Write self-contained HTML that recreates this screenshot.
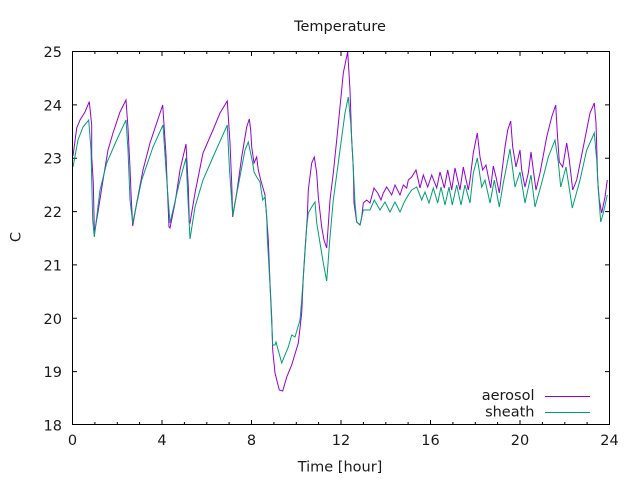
<!DOCTYPE html>
<html><head><meta charset="utf-8"><style>
html,body{margin:0;padding:0;background:#fff;}
svg{display:block;}
text{font-family:"DejaVu Sans","Liberation Sans",sans-serif;font-size:14.5px;fill:#1a1a1a;}
</style></head><body>
<svg width="640" height="480" viewBox="0 0 640 480" xmlns="http://www.w3.org/2000/svg">
<rect width="640" height="480" fill="#fff"/>
<text x="340" y="31" text-anchor="middle">Temperature</text>
<text x="20.5" y="237" text-anchor="middle" transform="rotate(-90 20.5 237)">C</text>
<text x="340" y="471.5" text-anchor="middle">Time [hour]</text>
<g text-anchor="end">
<text x="62" y="57">25</text>
<text x="62" y="110.4">24</text>
<text x="62" y="163.7">23</text>
<text x="62" y="217.1">22</text>
<text x="62" y="270.4">21</text>
<text x="62" y="323.8">20</text>
<text x="62" y="377.1">19</text>
<text x="62" y="430.5">18</text>
</g>
<g text-anchor="middle">
<text x="72.5" y="445">0</text>
<text x="162" y="445">4</text>
<text x="251.5" y="445">8</text>
<text x="341" y="445">12</text>
<text x="430.5" y="445">16</text>
<text x="520" y="445">20</text>
<text x="609.5" y="445">24</text>
</g>
<g stroke="#000" stroke-width="1" fill="none">
<path d="M72.5,104.9h4.5M72.5,158.2h4.5M72.5,211.6h4.5M72.5,264.9h4.5M72.5,318.3h4.5M72.5,371.6h4.5
M609.5,104.9h-4.5M609.5,158.2h-4.5M609.5,211.6h-4.5M609.5,264.9h-4.5M609.5,318.3h-4.5M609.5,371.6h-4.5"/>
<path d="M162,424.5v-4.5M251.5,424.5v-4.5M341,424.5v-4.5M430.5,424.5v-4.5M520,424.5v-4.5
M162,51.5v4.5M251.5,51.5v4.5M341,51.5v4.5M430.5,51.5v4.5M520,51.5v4.5"/>
<path d="M94.9,424.5v-2.5M117.3,424.5v-2.5M139.6,424.5v-2.5M184.4,424.5v-2.5M206.8,424.5v-2.5M229.1,424.5v-2.5M273.9,424.5v-2.5M296.3,424.5v-2.5M318.6,424.5v-2.5M363.4,424.5v-2.5M385.8,424.5v-2.5M408.1,424.5v-2.5M452.9,424.5v-2.5M475.3,424.5v-2.5M497.6,424.5v-2.5M542.4,424.5v-2.5M564.8,424.5v-2.5M587.1,424.5v-2.5
M94.9,51.5v2.5M117.3,51.5v2.5M139.6,51.5v2.5M184.4,51.5v2.5M206.8,51.5v2.5M229.1,51.5v2.5M273.9,51.5v2.5M296.3,51.5v2.5M318.6,51.5v2.5M363.4,51.5v2.5M385.8,51.5v2.5M408.1,51.5v2.5M452.9,51.5v2.5M475.3,51.5v2.5M497.6,51.5v2.5M542.4,51.5v2.5M564.8,51.5v2.5M587.1,51.5v2.5"/>
</g>
<polyline fill="none" stroke="#9400d3" stroke-width="1" points="73,156 76.7,128 80,120 85,112 89.3,101.7 91.7,125 91.7,156.7 93.3,183 94.3,230 94.7,231.7 98,212 103,180 108,150 113,133 120,112 126,100 128,128 130,168 131,193 132.7,226 136.7,203 143,170 150,143 156.7,123 162.7,105 166,155 167,180 169,227 170,228 175,203 180,170 186,144 188.3,187 189.3,222 190,223 195,193 203,153 213,130 220,113 227.3,101 230,143 231.7,183 232.7,217 236.7,193 241.7,157 246.7,127 249.3,119 250.7,130 251.7,147 254,163 256.7,157 258.3,170 260.7,180 262.7,187 265,195 266.7,217 268.3,240 270,283 271.7,317 272.7,350 275,373 279.3,390 282.7,391 286.7,377 291.7,365 298.3,343 301.7,313 303.3,277 305,250 307.3,217 308.3,190 311.7,163 314.3,157 316.7,173 318.3,197 321.7,227 324,240 326.7,248 330,200 333.3,173 336.7,140 340,107 343.3,73 347.7,51.7 350,90 351.7,140 353.3,167 354,203 356.7,222 360,225 361.7,217 363.3,203 366.7,200 370,203 374,188 377.7,193 381,200 383.3,193 386.7,187 391.7,195 395,185 400,195 403.3,185 406.7,188 408.3,180 411.7,177 416,170 420,188 423.3,175 427.7,187 431.7,175 436.7,188 440,172 444.3,188 447.7,170 451.7,190 455,168 460,190 463.3,167 468.3,190 470,180 473.3,153 477.3,133 480,157 482.7,170 486,165 488.3,177 490.7,188 493.3,166 496,177 499.3,193 505,147 507.7,130 510.7,121 512.7,147 516,167 520,150 521.7,170 525,187 528.3,173 531,152 533.3,170 536,190 540,173 546.7,137 551.7,117 555.7,105 557.3,133 559.3,162 562.7,167 566.7,143 569.3,160 572.7,190 576.7,180 583.3,147 590,113 594.3,103 596,123 597.7,180 599.3,200 601.7,213 605,197 607.3,180"/>
<polyline fill="none" stroke="#009e73" stroke-width="1" points="73,167 78,140 83,127 88.7,120 91,150 92.7,220 94.3,237 100,190 106.7,163 116.7,140 126,120 128,150 130,200 132.7,223 141.7,180 153,147 163,125 166,170 170,223 180,180 186,158 188,200 190,239 195,207 203,180 213,157 227.3,125 229.5,170 232.7,215 238,187 245,150 248.3,142 252.7,163 254,172 256.7,177 260,182 262.7,200 265,197 266.7,217 267.3,238 270,285 272.7,345 275,345 276,342 281.7,363 288.3,347 291.7,335 295,337 300,320 301.7,300 304,267 306.7,227 308.3,213 311.7,207 315,202 316.7,223 320,243 323.3,263 326.7,281 330,237 333.3,200 340,150 345,113 348.3,97 350.7,123 352.7,157 354,183 355,203 356.7,222 360,225 363.3,210 370,210 374.3,200 380,210 385,202 390,212 395,202 400,212 404.3,202 408.3,195 411.7,190 416.7,187 421.7,200 425,192 429,203 433.3,188 437.7,203 441,187 445,205 449,187 452.3,205 456.7,185 461,205 465,185 470,203 473.3,173 477.3,158 481.7,187 485,180 490,203 494.3,180 499.3,207 503.3,183 510,149 515,187 520,172 525,203 531,175 535,207 541.7,183 548.3,157 555,140 558.3,162 560.7,187 566,167 572.3,208 580,180 586.7,150 594.3,133 596.7,160 598.3,190 600.7,222 603.3,213 607.3,195"/>
<rect x="72.5" y="51.5" width="537" height="373" fill="none" stroke="#000" stroke-width="1"/>
<text x="534.5" y="400" text-anchor="end">aerosol</text>
<text x="534.5" y="416.7" text-anchor="end">sheath</text>
<line x1="545" y1="396.5" x2="590" y2="396.5" stroke="#9400d3" stroke-width="1"/>
<line x1="545" y1="412.5" x2="590" y2="412.5" stroke="#009e73" stroke-width="1"/>
</svg>
</body></html>
